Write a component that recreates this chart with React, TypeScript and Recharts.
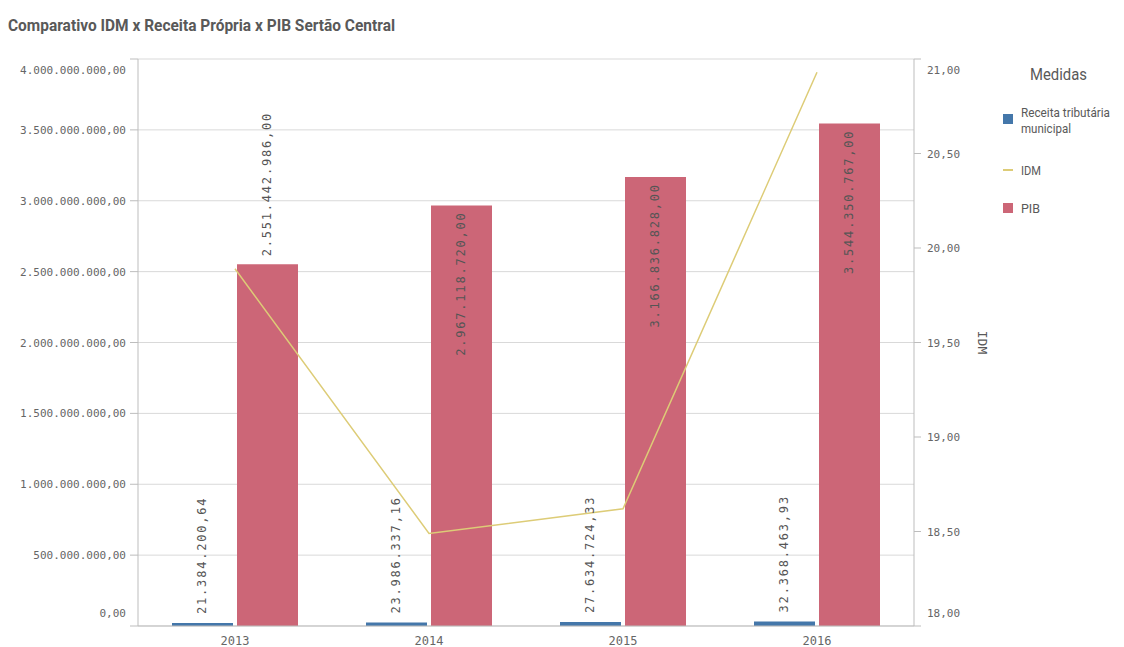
import React from 'react';
import { ComposedChart, Bar, Line, XAxis, YAxis, CartesianGrid, LabelList } from 'recharts';

const years = ['2013', '2014', '2015', '2016'];
const receita = [21384200.64, 23986337.16, 27634724.33, 32368463.93];
const pib = [2551442986, 2967118720, 3166836828, 3544350767];
const idm = [19.89, 18.49, 18.62, 20.93];

const leftTicks = [0, 500000000, 1000000000, 1500000000, 2000000000, 2500000000, 3000000000, 3500000000, 4000000000];
const rightTicks = [18, 18.5, 19, 19.5, 20, 20.5, 21];

const data = years.map((year, i) => ({ year, receita: receita[i], pib: pib[i], idm: idm[i] }));

const BLUE = '#4477aa';
const PINK = '#cc6677';
const YELLOW = '#ddcc77';
const TEXT = '#595959';
const TICK = '#666';
const MONO = '"DejaVu Sans Mono", monospace';
const SANS = 'Roboto, "Noto Sans", sans-serif';

// pt-BR number format: 1.234.567,89
const fmt = (v: number) => {
  const [int, dec] = v.toFixed(2).split('.');
  return int.replace(/\B(?=(\d{3})+(?!\d))/g, '.') + ',' + dec;
};

// first/last labels are pulled inside the plot, like Qlik does
const LeftTick = (props: any) => {
  const { x, y, payload } = props;
  let dy = 4;
  if (payload.value === leftTicks[0]) dy = -9;
  if (payload.value === leftTicks[leftTicks.length - 1]) dy = 15;
  return (
    <text x={x} y={y + dy} textAnchor="end" fill={TICK} fontSize={11} fontFamily={MONO}>
      {fmt(payload.value)}
    </text>
  );
};

const RightTick = (props: any) => {
  const { x, y, payload } = props;
  let dy = 4;
  if (payload.value === rightTicks[0]) dy = -9;
  if (payload.value === rightTicks[rightTicks.length - 1]) dy = 15;
  return (
    <text x={x} y={y + dy} textAnchor="start" fill={TICK} fontSize={11} fontFamily={MONO}>
      {fmt(payload.value)}
    </text>
  );
};

const XTick = (props: any) => {
  const { x, y, payload } = props;
  return (
    <text x={x} y={y + 11} textAnchor="middle" fill={TICK} fontSize={12} fontFamily={MONO}>
      {payload.value}
    </text>
  );
};

const vText = (cx: number, ty: number, anchor: 'start' | 'end', value: number) => (
  <text
    x={cx}
    y={ty}
    transform={`rotate(-90 ${cx} ${ty})`}
    textAnchor={anchor}
    dominantBaseline="central"
    fill="#555"
    fontSize={12}
    letterSpacing={1.8}
    fontFamily={MONO}
  >
    {fmt(value)}
  </text>
);

const ReceitaLabel = (props: any) => {
  const { x, y, width, value } = props;
  return vText(x + width / 2, y - 9, 'start', value);
};

const PibLabel = (props: any) => {
  const { x, y, width, value, index } = props;
  const cx = x + width / 2;
  // 2013 label sits above the bar (the IDM line crosses its top)
  if (index === 0) return vText(cx, y - 8, 'start', value);
  return vText(cx, y + 6, 'end', value);
};

const IdmAxisLabel = (props: any) => {
  const { viewBox } = props;
  const cx = viewBox.x + 68;
  const cy = viewBox.y + viewBox.height / 2;
  return (
    <text x={cx} y={cy} transform={`rotate(90 ${cx} ${cy})`} textAnchor="middle" dominantBaseline="central" fill={TEXT} fontSize={13} fontFamily={MONO}>
      IDM
    </text>
  );
};

const legendItems = [
  { label: ['Receita tributária', 'municipal'], color: BLUE },
  { label: ['IDM'], color: YELLOW },
  { label: ['PIB'], color: PINK },
];

const App: React.FC = () => {
  return (
    <div style={{ position: 'absolute', left: 0, top: 0, width: 1124, height: 647, background: '#fff' }}>
      <ComposedChart
        width={1124}
        height={647}
        data={data}
        margin={{ top: 59, right: 150, bottom: 0, left: 8 }}
        barGap={4}
        style={{ position: 'absolute', left: 0, top: 0 }}
      >
        <CartesianGrid yAxisId="left" vertical={false} stroke="#d9d9d9" strokeDasharray="" />
        <XAxis
          dataKey="year"
          height={21}
          tick={<XTick />}
          tickLine={false}
          axisLine={{ stroke: '#bdbdbd' }}
        />
        <YAxis
          yAxisId="left"
          width={130}
          domain={[0, 4000000000]}
          ticks={leftTicks}
          interval={0}
          tick={<LeftTick />}
          tickSize={8}
          tickMargin={4}
          tickLine={{ stroke: '#bdbdbd' }}
          axisLine={{ stroke: '#bdbdbd' }}
        />
        <YAxis
          yAxisId="right"
          orientation="right"
          width={60}
          domain={[18, 21]}
          ticks={rightTicks}
          interval={0}
          tick={<RightTick />}
          tickSize={7}
          tickMargin={6}
          tickLine={{ stroke: '#bdbdbd' }}
          axisLine={{ stroke: '#bdbdbd' }}
          label={<IdmAxisLabel />}
        />
        <Bar yAxisId="left" dataKey="receita" fill={BLUE} barSize={61} isAnimationActive={false}>
          <LabelList dataKey="receita" content={<ReceitaLabel />} />
        </Bar>
        <Bar yAxisId="left" dataKey="pib" fill={PINK} barSize={61} isAnimationActive={false}>
          <LabelList dataKey="pib" content={<PibLabel />} />
        </Bar>
        <Line
          yAxisId="right"
          type="linear"
          dataKey="idm"
          stroke={YELLOW}
          strokeWidth={1.5}
          dot={false}
          activeDot={false}
          isAnimationActive={false}
        />
      </ComposedChart>

      <svg width={1124} height={647} style={{ position: 'absolute', left: 0, top: 0, pointerEvents: 'none' }}>
        <text x={8} y={31} fontFamily={SANS} fontWeight={700} fontSize={17} fill={TEXT} textLength={387} lengthAdjust="spacingAndGlyphs">
          Comparativo IDM x Receita Própria x PIB Sertão Central
        </text>
        <g transform="translate(1000,50)">
          <text x={30} y={30} fontFamily={SANS} fontSize={17} fill={TEXT} textLength={57} lengthAdjust="spacingAndGlyphs">
            Medidas
          </text>
          <rect x={3} y={64} width={10} height={10} fill={legendItems[0].color} />
          <text x={21} y={67} fontFamily={SANS} fontSize={13} fill={TEXT} textLength={89} lengthAdjust="spacingAndGlyphs">
            {legendItems[0].label[0]}
          </text>
          <text x={21} y={83} fontFamily={SANS} fontSize={13} fill={TEXT} textLength={50} lengthAdjust="spacingAndGlyphs">
            {legendItems[0].label[1]}
          </text>
          <line x1={3} x2={13} y1={120} y2={120} stroke={legendItems[1].color} strokeWidth={2} />
          <text x={21} y={125} fontFamily={SANS} fontSize={13} fill={TEXT} textLength={20} lengthAdjust="spacingAndGlyphs">
            {legendItems[1].label[0]}
          </text>
          <rect x={3} y={153} width={10} height={10} fill={legendItems[2].color} />
          <text x={21} y={163} fontFamily={SANS} fontSize={13} fill={TEXT} textLength={19} lengthAdjust="spacingAndGlyphs">
            {legendItems[2].label[0]}
          </text>
        </g>
      </svg>
    </div>
  );
};

export default App;
